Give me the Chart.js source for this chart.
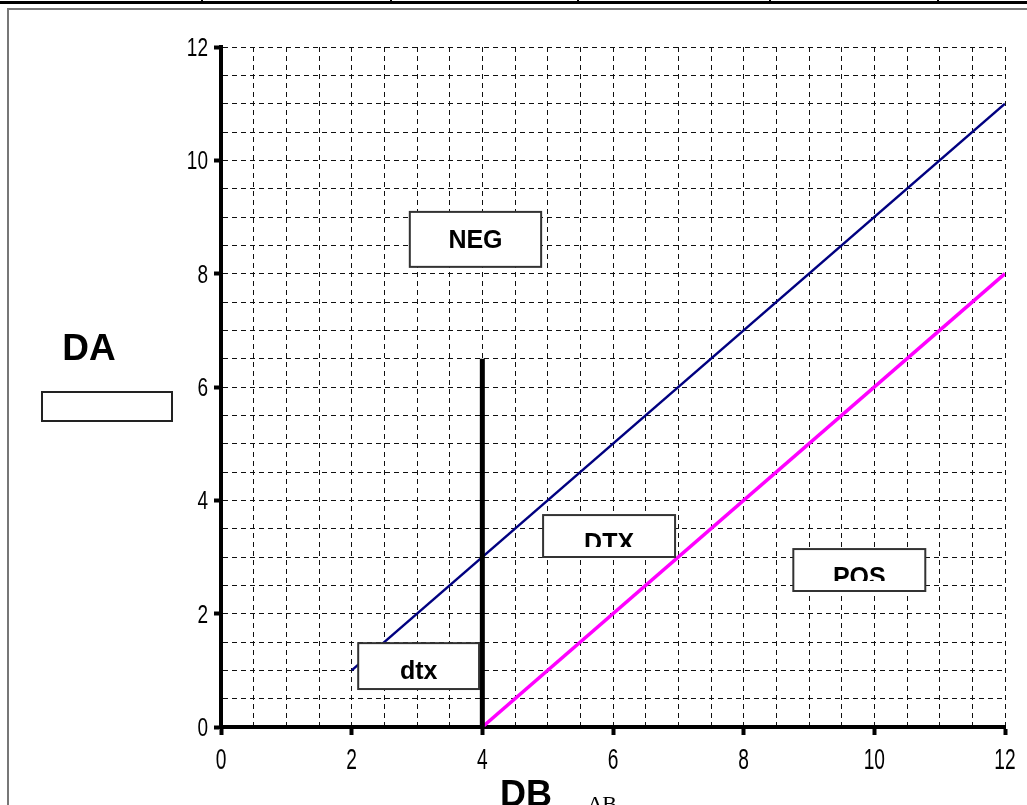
<!DOCTYPE html>
<html>
<head>
<meta charset="utf-8">
<script src="https://cdn.jsdelivr.net/npm/chart.js@4"></script>
<style>
  html, body { margin: 0; padding: 0; background: #fff; overflow: hidden; }
  canvas { display: block; }
</style>
</head>
<body>
<canvas id="grafico" width="1027" height="805"></canvas>
<script>
// valores
const rotulosX = [0, 2, 4, 6, 8, 10, 12];
const rotulosY = [0, 2, 4, 6, 8, 10, 12];
const azulX = [2, 12];
const azulY = [1, 11];
const rosaX = [4, 12];
const rosaY = [0, 8];
const muroX = [4, 4];
const muroY = [0, 6.5];
const textosCaixas = ['NEG', 'DTX', 'POS', 'dtx'];

const fonteTexto = '"Liberation Sans", Arial, sans-serif';

// caixas de texto em coordenadas do gráfico: x1, y1 (topo), x2, y2 (base)
const caixas = [
  [2.89, 9.09, 4.90, 8.12],
  [4.93, 3.74, 6.95, 3.00],
  [8.76, 3.14, 10.78, 2.40],
  [2.10, 1.48, 3.95, 0.67]
];

function pontos(xs, ys) {
  return xs.map((x, i) => ({ x: x, y: ys[i] }));
}

// texto estreito (tipo Arial Narrow) com escala horizontal
function textoEstreito(c, txt, x, y, tam, esc, alinh) {
  c.save();
  c.font = tam + 'px ' + fonteTexto;
  c.textAlign = alinh;
  c.textBaseline = 'alphabetic';
  c.translate(x, y);
  c.scale(esc, 1);
  c.fillText(txt, 0, 0);
  c.restore();
}

// moldura, linhas do topo e rótulos soltos
const moldura = {
  id: 'moldura',
  beforeDraw(chart) {
    const c = chart.ctx;
    c.save();
    c.fillStyle = '#fff';
    c.fillRect(0, 0, chart.width, chart.height);
    c.strokeStyle = '#000';
    c.lineWidth = 3;
    c.beginPath();
    c.moveTo(0, 2.5);
    c.lineTo(chart.width, 2.5);
    c.stroke();
    c.lineWidth = 2;
    [202, 391, 578, 770, 938].forEach(x => {
      c.beginPath();
      c.moveTo(x, 0);
      c.lineTo(x, 3);
      c.stroke();
    });
    c.strokeStyle = '#777';
    c.lineWidth = 2;
    c.beginPath();
    c.moveTo(8, chart.height);
    c.lineTo(8, 9);
    c.lineTo(chart.width, 9);
    c.stroke();
    c.restore();
  },
  afterDraw(chart) {
    const c = chart.ctx;
    const sx = chart.scales.x, sy = chart.scales.y;
    c.save();
    c.fillStyle = '#000';
    // rótulos dos ticks
    sx.ticks.forEach(t => {
      if (rotulosX.includes(t.value)) {
        textoEstreito(c, String(t.value), sx.getPixelForValue(t.value), sx.bottom - 78 + 42, 29, 0.66, 'center');
      }
    });
    sy.ticks.forEach(t => {
      if (rotulosY.includes(t.value)) {
        textoEstreito(c, String(t.value), sy.right - 13, sy.getPixelForValue(t.value) + 9, 25, 0.76, 'right');
      }
    });
    c.font = 'bold 37px ' + fonteTexto;
    c.textAlign = 'center';
    c.textBaseline = 'alphabetic';
    c.fillText('DA', 89, 360);
    c.textAlign = 'left';
    c.font = 'bold 36px ' + fonteTexto;
    c.fillText('DB', 500, 806);
    c.font = '22px "Liberation Serif", serif';
    c.fillText('\u0394B', 588, 811);
    c.fillStyle = '#fff';
    c.fillRect(42, 392, 130, 29);
    c.strokeStyle = '#222';
    c.lineWidth = 2;
    c.strokeRect(42, 392, 130, 29);
    c.restore();
  }
};

// caixas com texto (NEG, DTX, POS, dtx)
const caixasTexto = {
  id: 'caixasTexto',
  afterDatasetsDraw(chart) {
    const c = chart.ctx;
    const sx = chart.scales.x, sy = chart.scales.y;
    c.save();
    caixas.forEach((b, i) => {
      const x1 = sx.getPixelForValue(b[0]);
      const x2 = sx.getPixelForValue(b[2]);
      const y1 = sy.getPixelForValue(b[1]);
      const y2 = sy.getPixelForValue(b[3]);
      c.fillStyle = '#fff';
      c.fillRect(x1, y1, x2 - x1, y2 - y1);
      c.strokeStyle = '#333';
      c.lineWidth = 2;
      c.strokeRect(x1, y1, x2 - x1, y2 - y1);
      c.save();
      c.beginPath();
      c.rect(x1, y1, x2 - x1, y2 - y1 - 10);
      c.clip();
      c.fillStyle = '#000';
      c.font = 'bold 25px ' + fonteTexto;
      c.textAlign = 'center';
      c.textBaseline = 'alphabetic';
      c.fillText(textosCaixas[i], (x1 + x2) / 2, y1 + 36);
      c.restore();
    });
    c.restore();
  }
};

function corTick(ctx) {
  return ctx.tick && ctx.tick.value % 2 === 0 ? '#000' : 'rgba(0,0,0,0)';
}

new Chart(document.getElementById('grafico').getContext('2d'), {
  type: 'line',
  data: {
    datasets: [
      { data: pontos(muroX, muroY), borderColor: '#000', borderWidth: 5, pointRadius: 0 },
      { data: pontos(azulX, azulY), borderColor: '#000080', borderWidth: 2.5, pointRadius: 0 },
      { data: pontos(rosaX, rosaY), borderColor: '#ff00ff', borderWidth: 3.5, pointRadius: 0 }
    ]
  },
  options: {
    responsive: false,
    devicePixelRatio: 1,
    animation: false,
    layout: { padding: { left: 0, top: 47, right: 22, bottom: 0 } },
    plugins: { legend: { display: false }, tooltip: { enabled: false } },
    scales: {
      x: {
        type: 'linear',
        min: 0,
        max: 12,
        afterFit: s => { s.height = 78; },
        ticks: { stepSize: 0.5, autoSkip: false, maxRotation: 0, display: false },
        grid: { color: '#111', lineWidth: 1, tickLength: 8, tickWidth: 4, tickColor: corTick, tickBorderDash: [] },
        border: { color: '#000', width: 4, dash: [5, 4] }
      },
      y: {
        type: 'linear',
        min: 0,
        max: 12,
        afterFit: s => { s.width = 221; },
        ticks: { stepSize: 0.5, autoSkip: false, display: false },
        grid: { color: '#111', lineWidth: 1, tickLength: 7, tickWidth: 4, tickColor: corTick, tickBorderDash: [] },
        border: { color: '#000', width: 4, dash: [5, 4] }
      }
    }
  },
  plugins: [moldura, caixasTexto]
});
</script>
</body>
</html>
